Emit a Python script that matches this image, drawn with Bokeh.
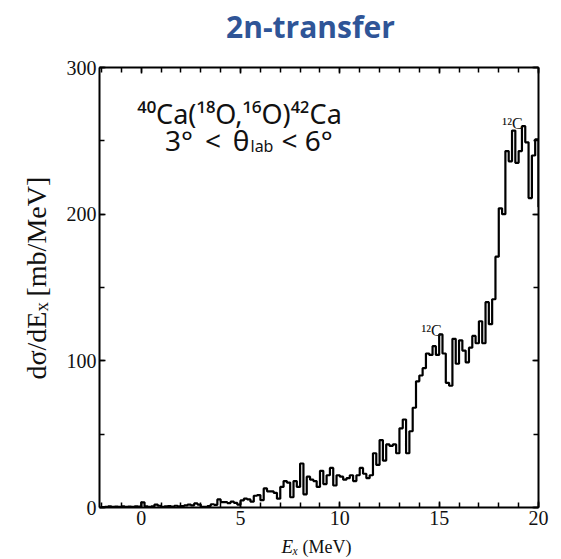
import numpy as np
from bokeh.plotting import figure
from bokeh.models import Label, LinearAxis, Range1d, FixedTicker, CustomJSTickFormatter
from bokeh.embed import file_html
from bokeh.resources import INLINE

# ---------------- data ----------------
TITLE = "2n-transfer"
REACTION = "⁴⁰Ca(¹⁸O,¹⁶O)⁴²Ca"
PEAK_LABEL = "¹²C"

BIN_START = -2.0          # MeV, lower edge of first bin
BIN_WIDTH = 1.0 / 6.0     # MeV

# dσ/dEx [mb/MeV], one row per MeV (6 bins each), from -2 MeV upwards
counts = (
    [0.3, 0.5, 0.8, 0.4, 0.6, 0.5] +        # -2
    [0.8, 0.4, 0.6, 0.5, 0.8, 0.6] +        # -1
    [3.5, 0.8, 0.5, 0.7, 2.0, 1.2] +        # 0
    [0.5, 0.7, 1.0, 0.6, 1.2, 0.8] +        # 1
    [1.0, 1.5, 2.0, 1.5, 2.8, 2.0] +        # 2
    [0.5, 0.5, 1.0, 2.2, 1.8, 5.5] +        # 3
    [3.6, 3.6, 3.0, 4.0, 3.2, 2.0] +        # 4
    [4.8, 6.0, 5.5, 4.0, 8.0, 8.5] +        # 5
    [5.0, 13, 11, 11, 10, 6] +              # 6
    [14, 18, 17, 7, 18, 14] +               # 7
    [30, 9, 21, 19, 18, 14] +               # 8
    [25, 16, 22, 27, 15, 22] +              # 9
    [21, 19, 20, 22, 18, 22] +              # 10
    [27, 23, 20, 22, 37, 29] +              # 11
    [46, 32, 43, 42, 43, 37] +              # 12
    [54, 60, 37, 52, 68, 86] +              # 13
    [90, 95, 105, 104, 110, 104] +          # 14
    [118, 105, 85, 83, 115, 98] +           # 15
    [114, 107, 99, 109, 117, 112] +         # 16
    [127, 112, 140, 125, 142, 171] +        # 17
    [204, 200, 243, 236, 257, 235] +        # 18
    [243, 260, 249, 211, 240, 251] +        # 19
    [205]                                   # 20 (clipped)
)

x_major_ticks = [0, 5, 10, 15, 20]
x_minor_ticks = list(range(-2, 21))
y_major_ticks = [0, 100, 200, 300]
y_minor_ticks = [0, 50, 100, 150, 200, 250, 300]

peak_positions_x = [14.62, 18.69]
peak_positions_y = [120.5, 262.0]

# ---------------- figure ----------------
p = figure(width=561, height=559,
           x_range=Range1d(-2.1, 20), y_range=Range1d(0, 300),
           output_backend="svg", toolbar_location=None,
           min_border_left=99, min_border_right=23,
           min_border_top=67, min_border_bottom=52)
p.grid.visible = False
p.outline_line_color = None
p.background_fill_color = "white"
p.border_fill_color = "white"

vals = np.array(counts, dtype=float)
edges = BIN_START + np.arange(len(vals) + 1) * BIN_WIDTH
p.step(edges, np.append(vals, vals[-1]), mode="after",
       line_color="black", line_width=2.2)

def style_axis(ax, show_labels):
    ax.axis_line_width = 2
    ax.axis_line_color = "black"
    ax.major_tick_in = 6
    ax.major_tick_out = 0
    ax.minor_tick_in = 5
    ax.minor_tick_out = 0
    ax.major_tick_line_width = 1.5
    ax.minor_tick_line_width = 1.5
    ax.major_tick_line_color = "black"
    ax.minor_tick_line_color = "black"
    ax.major_label_text_font = "Liberation Serif"
    ax.major_label_text_font_size = "20px"
    ax.major_label_text_color = "#111111"
    ax.major_label_standoff = 3
    if not show_labels:
        ax.formatter = CustomJSTickFormatter(code="return ''")
        ax.major_label_standoff = 0
        ax.major_label_text_font_size = "1px"

p.xaxis.ticker = FixedTicker(ticks=x_major_ticks, minor_ticks=x_minor_ticks)
p.yaxis.ticker = FixedTicker(ticks=y_major_ticks, minor_ticks=y_minor_ticks)
style_axis(p.xaxis[0], True)
style_axis(p.yaxis[0], True)

top = LinearAxis(ticker=FixedTicker(ticks=x_major_ticks, minor_ticks=x_minor_ticks))
style_axis(top, False)
p.add_layout(top, "above")
right = LinearAxis(ticker=FixedTicker(ticks=y_major_ticks, minor_ticks=y_minor_ticks))
style_axis(right, False)
p.add_layout(right, "right")

# ---------------- texts ----------------
def lab(text, x, y, size, font="Liberation Serif", align="left", baseline="alphabetic",
        color="#111111", style="normal", angle=0, units="screen", place="center"):
    p.add_layout(Label(x=x, y=y, x_units=units, y_units=units, text=text,
                       text_font=font, text_font_size=size, text_align=align,
                       text_baseline=baseline, text_color=color, text_font_style=style,
                       angle=angle), place)

# title (canvas units, in the top panel)
lab(TITLE, 310, 26, "30px", font="Open Sans", align="center", baseline="middle",
    color="#2F5597", style="bold", units="canvas", place="above")

# reaction annotation (frame-relative screen units)
lab(REACTION, 140, 394, "27px", font="Noto Sans", align="center")
lab("3°\u2009 <\u2009 θ", 150, 368, "28px", font="Noto Sans", align="right")
lab("lab", 151, 362, "16px", font="Noto Sans", align="left")
lab("< 6°", 182, 368, "28px", font="Noto Sans", align="left")

# peak labels
for px, py in zip(peak_positions_x, peak_positions_y):
    lab(PEAK_LABEL, px, py, "16px", align="center", units="data")

# x axis label (canvas units; spread over side panels with spare room)
lab("Eₓ", 281, 546, "19px", style="italic", units="canvas", place="below")
lab("(MeV)", 302, 546, "18px", units="canvas", place="above")

# y axis label (rotated, canvas units)
ang = np.pi / 2
lab("dσ/dE", 36, 379, "28px", angle=ang, units="canvas", place="left")
lab("x", 41, 311, "19px", angle=ang, units="canvas", place="right")
lab("[mb/MeV]", 36, 296, "28px", angle=ang, units="canvas", place="left")

open("out.html", "w").write(file_html(p, INLINE))
